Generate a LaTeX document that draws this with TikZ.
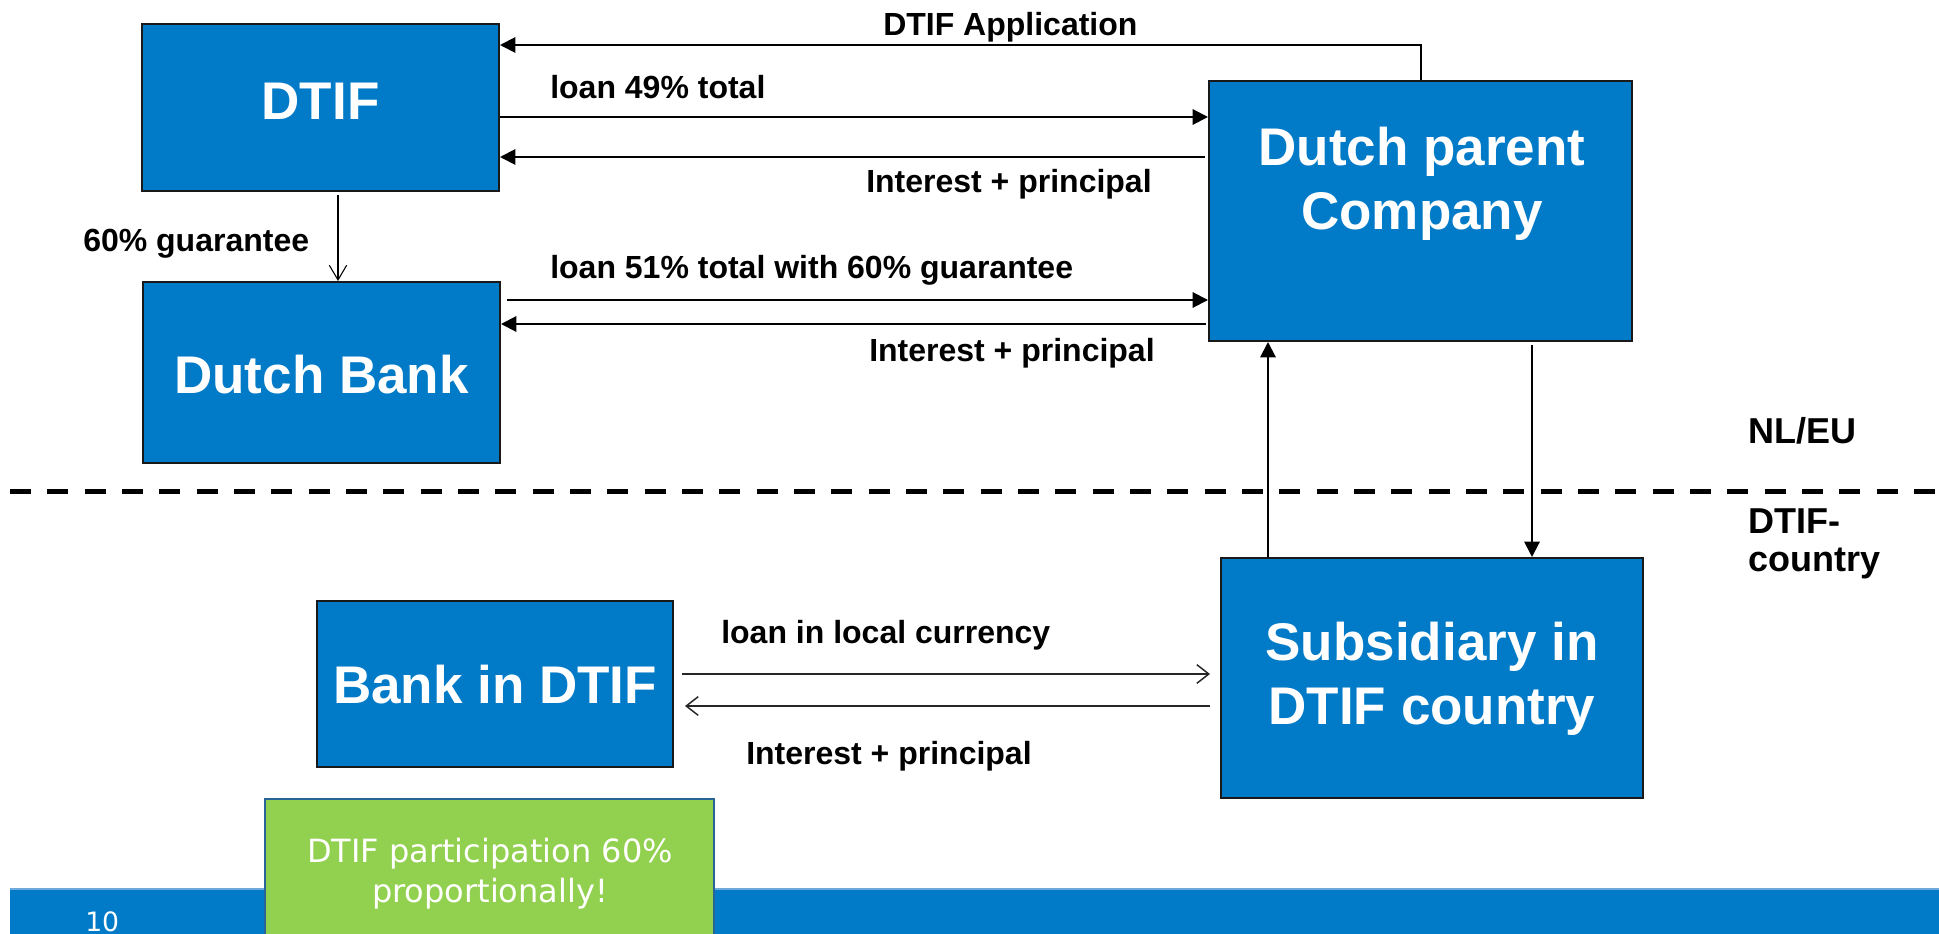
\documentclass[tikz,border=0pt]{standalone}
\usepackage{fontspec}
\setmainfont{Liberation Sans}
\newfontfamily\vfont{DejaVu Sans}
\usetikzlibrary{arrows.meta}
\definecolor{boxblue}{RGB}{1,122,199}
\definecolor{bandline}{RGB}{110,170,220}
\definecolor{boxgreen}{RGB}{146,208,80}
\definecolor{greenedge}{RGB}{40,100,150}
\begin{document}
\begin{tikzpicture}[x=0.75pt,y=-0.75pt,
  box/.style={draw=black!90,line width=1.5pt,fill=boxblue,inner sep=0pt},
  boxtext/.style={anchor=base,inner sep=0pt,text=white,font=\fontsize{39.75}{48}\selectfont\bfseries},
  lbl/.style={anchor=base west,inner sep=0pt,font=\fontsize{24}{28}\selectfont\bfseries},
  side/.style={anchor=base west,inner sep=0pt,font=\fontsize{27}{28.5}\selectfont\bfseries},
  conn/.style={line width=1.5pt,-{Triangle[length=11.5pt,width=11.5pt]}},
  barb/.style={line width=1.1pt,draw=black!85,-{Straight Barb[length=9pt,width=14pt]}},
  gbarb/.style={line width=0.8pt,-{Straight Barb[length=11pt,width=13pt]}},
]
\useasboundingbox (0,0) rectangle (1939,934);
\clip (0,0) rectangle (1939,934);
\fill[white] (0,0) rectangle (1939,934);

% boxes
\node[box,minimum width=267.75pt,minimum height=125.25pt] (dtif) at (320.5,107.5) {};
\node[box,minimum width=267.75pt,minimum height=135.75pt] (dbank) at (321.5,372.5) {};
\node[box,minimum width=317.25pt,minimum height=195pt] (parent) at (1420.5,211) {};
\node[box,minimum width=267pt,minimum height=124.5pt] (bdtif) at (495,684) {};
\node[box,minimum width=316.5pt,minimum height=180pt] (sub) at (1432,678) {};

\node[boxtext] (dtift) at (320.5,120) {DTIF};
\node[boxtext] (dbankt) at (321.5,393) {Dutch Bank};
\node[boxtext] (parentt) at (1422,166) {\begin{tabular}[t]{@{}c@{}}Dutch parent\\Company\end{tabular}};
\node[boxtext] (bdtift) at (495,703) {Bank in DTIF};
\node[boxtext] (subt) at (1432,660) {\begin{tabular}[t]{@{}c@{}}Subsidiary in\\DTIF country\end{tabular}};

% connectors top
\coordinate (appcorner) at (1421,45);
\draw[conn] (appcorner |- parent.north) -- (appcorner) -- (dtif.east |- appcorner);
\draw[conn] (dtif.east |- 0,117) -- (parent.west |- 0,117);
\draw[conn,shorten <=2.25pt] (parent.west |- 0,157) -- (dtif.east |- 0,157);
\draw[conn,shorten <=4.5pt] (dbank.east |- 0,300) -- (parent.west |- 0,300);
\draw[conn,shorten <=1.5pt] (parent.west |- 0,324) -- (dbank.east |- 0,324);
\draw[gbarb,shorten <=2.25pt] (dtif.south -| 338,0) -- (dbank.north -| 338,0);

% vertical
\draw[conn] (sub.north -| 1268,0) -- (parent.south -| 1268,0);
\draw[conn,shorten <=2.25pt] (parent.south -| 1532,0) -- (sub.north -| 1532,0);

% bottom
\draw[barb,shorten <=6pt,shorten >=7.5pt] (bdtif.east |- 0,674) -- (sub.west |- 0,674);
\draw[barb,shorten <=7.5pt,shorten >=8.25pt] (sub.west |- 0,706) -- (bdtif.east |- 0,706);

% labels
\node[lbl] (lapp) at (883,36) {DTIF Application};
\node[lbl] (l49) at (550,99) {loan 49\% total};
\node[lbl] (lip1) at (866,193) {Interest + principal};
\node[lbl] (lgua) at (83,252) {60\% guarantee};
\node[lbl] (l51) at (550,279) {loan 51\% total with 60\% guarantee};
\node[lbl] (lip2) at (869,362) {Interest + principal};
\node[lbl] (lloc) at (721,643) {loan in local currency};
\node[lbl] (lip3) at (746,764) {Interest + principal};

% region separator
\draw[line width=3.75pt,dash pattern=on 15.75pt off 12.25pt] (10,491) -- (1939,491);
\node[side] (nleu) at (1748,443) {NL/EU};
\node[side] (dtifc) at (1748,533) {\begin{tabular}[t]{@{}l@{}}DTIF-\\country\end{tabular}};

% footer
\fill[boxblue] (10,889) rectangle (1939,940);
\draw[bandline,line width=1pt] (10,889) -- (1939,889);
\node[anchor=base west,inner sep=0pt,text=white,font=\vfont\fontsize{20}{24}\selectfont] (pnum) at (85,931) {10};

% green note
\node[draw=greenedge,line width=1.5pt,fill=boxgreen,minimum width=336.75pt,minimum height=120.75pt,inner sep=0pt] (note) at (489.5,879.5) {};
\node[anchor=base,inner sep=0pt,text=white,font=\vfont\fontsize{24}{30}\selectfont] (notet) at (490,862) {\begin{tabular}[t]{@{}c@{}}DTIF participation 60\%\\proportionally!\end{tabular}};
\end{tikzpicture}
\end{document}
